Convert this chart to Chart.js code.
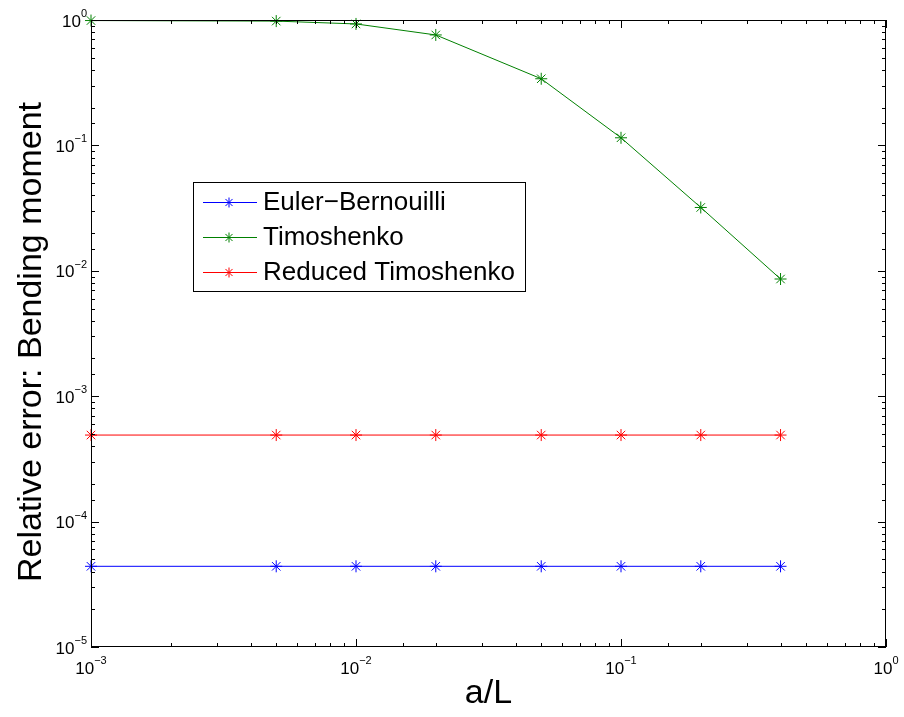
<!DOCTYPE html>
<html>
<head>
<meta charset="utf-8">
<script src="https://cdn.jsdelivr.net/npm/chart.js@4/dist/chart.umd.min.js"></script>
<style>
  body { margin: 0; background: #fff; }
  canvas { display: block; }
</style>
</head>
<body>
<canvas id="beamChart" width="904" height="717"></canvas>
<script>
// a/L の値
const ratioValues = [0.001, 0.005, 0.01, 0.02, 0.05, 0.1, 0.2, 0.4];
// 各モデルの相対誤差
const eulerBernoulli = [4.4e-5, 4.4e-5, 4.4e-5, 4.4e-5, 4.4e-5, 4.4e-5, 4.4e-5, 4.4e-5];
const timoshenko = [0.99, 0.98, 0.93, 0.76, 0.34, 0.115, 0.032, 0.0086];
const reducedTimoshenko = [4.9e-4, 4.9e-4, 4.9e-4, 4.9e-4, 4.9e-4, 4.9e-4, 4.9e-4, 4.9e-4];
// 軸の目盛 (指数)
const xExponents = [-3, -2, -1, 0];
const yExponents = [-5, -4, -3, -2, -1, 0];

const FONT = '"Liberation Sans", Arial, sans-serif';

const toPoints = (ys) => ratioValues.map((x, i) => ({ x: x, y: ys[(i)] }));

// 10^n 形式のラベルを描く
function drawPowerLabel(ctx, exp, x, y, align) {
    const base = '10';
    const sup = exp < 0 ? '\u2212' + Math.abs(exp) : String(exp);
    ctx.font = '17px ' + FONT;
    const wBase = ctx.measureText(base).width;
    ctx.font = '11px ' + FONT;
    const wSup = ctx.measureText(sup).width;
    const total = wBase + wSup;
    let left = x - total / 2;
    if (align === 'right') left = x - total;
    ctx.textBaseline = 'middle';
    ctx.textAlign = 'left';
    ctx.font = '17px ' + FONT;
    ctx.fillText(base, left, y + 1);
    ctx.font = '11px ' + FONT;
    ctx.fillText(sup, left + wBase, y - 7);
}

const matlabAxesPlugin = {
    id: 'matlabAxes',
    afterDraw: (chart) => {
        const { ctx, chartArea: { top, bottom, left, right } } = chart;
        const xs = chart.scales.x;
        const ys = chart.scales.y;
        ctx.save();
        ctx.strokeStyle = '#000';
        ctx.fillStyle = '#000';
        ctx.lineWidth = 1;

        // 枠
        ctx.strokeRect(left + 0.5, top + 0.5, right - left - 1, bottom - top - 1);

        // 目盛 (内向き、四辺)
        const isMajor = (v) => Math.abs(Math.log10(v) - Math.round(Math.log10(v))) < 1e-6;
        ctx.beginPath();
        xs.ticks.forEach(t => {
            const px = Math.round(xs.getPixelForValue(t.value)) + 0.5;
            const len = isMajor(t.value) ? 8 : 4;
            ctx.moveTo(px, bottom);
            ctx.lineTo(px, bottom - len);
            ctx.moveTo(px, top);
            ctx.lineTo(px, top + len);
        });
        ys.ticks.forEach(t => {
            const py = Math.round(ys.getPixelForValue(t.value)) + 0.5;
            const len = isMajor(t.value) ? 8 : 4;
            ctx.moveTo(left, py);
            ctx.lineTo(left + len, py);
            ctx.moveTo(right, py);
            ctx.lineTo(right - len, py);
        });
        ctx.stroke();

        // 目盛ラベル
        xExponents.forEach(e => {
            drawPowerLabel(ctx, e, xs.getPixelForValue(Math.pow(10, e)), bottom + 21, 'center');
        });
        yExponents.forEach(e => {
            drawPowerLabel(ctx, e, left - 4, ys.getPixelForValue(Math.pow(10, e)) + 1, 'right');
        });

        // 軸タイトル
        ctx.font = '34px ' + FONT;
        ctx.textAlign = 'center';
        ctx.textBaseline = 'middle';
        ctx.fillText('a/L', (left + right) / 2, 694);
        ctx.save();
        ctx.translate(32, 342);
        ctx.rotate(-Math.PI / 2);
        ctx.fillText('Relative error: Bending moment', 0, 0);
        ctx.restore();

        // 凡例
        const lx = 193, ly = 182, lw = 332, lh = 109;
        ctx.fillStyle = '#fff';
        ctx.fillRect(lx, ly, lw, lh);
        ctx.strokeStyle = '#000';
        ctx.strokeRect(lx + 0.5, ly + 0.5, lw, lh);
        chart.data.datasets.forEach((ds, i) => {
            const rowY = 202 + i * 35;
            ctx.strokeStyle = ds.borderColor;
            ctx.lineWidth = 1;
            ctx.beginPath();
            ctx.moveTo(203, rowY + 0.5);
            ctx.lineTo(257, rowY + 0.5);
            ctx.stroke();
            Chart.helpers.drawPoint(ctx, { pointStyle: 'star', radius: 5, borderWidth: 1 }, 229, rowY + 0.5);
            ctx.fillStyle = '#000';
            ctx.font = '26px ' + FONT;
            ctx.textAlign = 'left';
            ctx.textBaseline = 'middle';
            ctx.fillText(ds.label, 263, rowY + 1);
        });
        ctx.restore();
    }
};

const makeDataset = (label, ys, color) => ({
    label: label,
    data: toPoints(ys),
    borderColor: color,
    backgroundColor: color,
    borderWidth: 1,
    pointStyle: 'star',
    pointRadius: 6,
    pointBorderWidth: 1,
    showLine: true,
    fill: false,
    clip: false,
    tension: 0
});

new Chart(document.getElementById('beamChart').getContext('2d'), {
    type: 'scatter',
    data: {
        datasets: [
            makeDataset('Euler\u2212Bernouilli', eulerBernoulli, 'rgb(0, 0, 255)'),
            makeDataset('Timoshenko', timoshenko, 'rgb(0, 128, 0)'),
            makeDataset('Reduced Timoshenko', reducedTimoshenko, 'rgb(255, 0, 0)')
        ]
    },
    options: {
        responsive: false,
        animation: false,
        layout: { padding: { left: 91, right: 18, top: 20, bottom: 70 } },
        plugins: {
            legend: { display: false },
            tooltip: { enabled: false }
        },
        scales: {
            x: {
                type: 'logarithmic',
                min: 0.001,
                max: 1,
                grid: { display: false, drawTicks: false },
                border: { display: false },
                ticks: { display: false, autoSkip: false },
                title: { display: false }
            },
            y: {
                type: 'logarithmic',
                min: 1e-5,
                max: 1,
                grid: { display: false, drawTicks: false },
                border: { display: false },
                ticks: { display: false, autoSkip: false },
                title: { display: false }
            }
        }
    },
    plugins: [matlabAxesPlugin]
});
</script>
</body>
</html>
